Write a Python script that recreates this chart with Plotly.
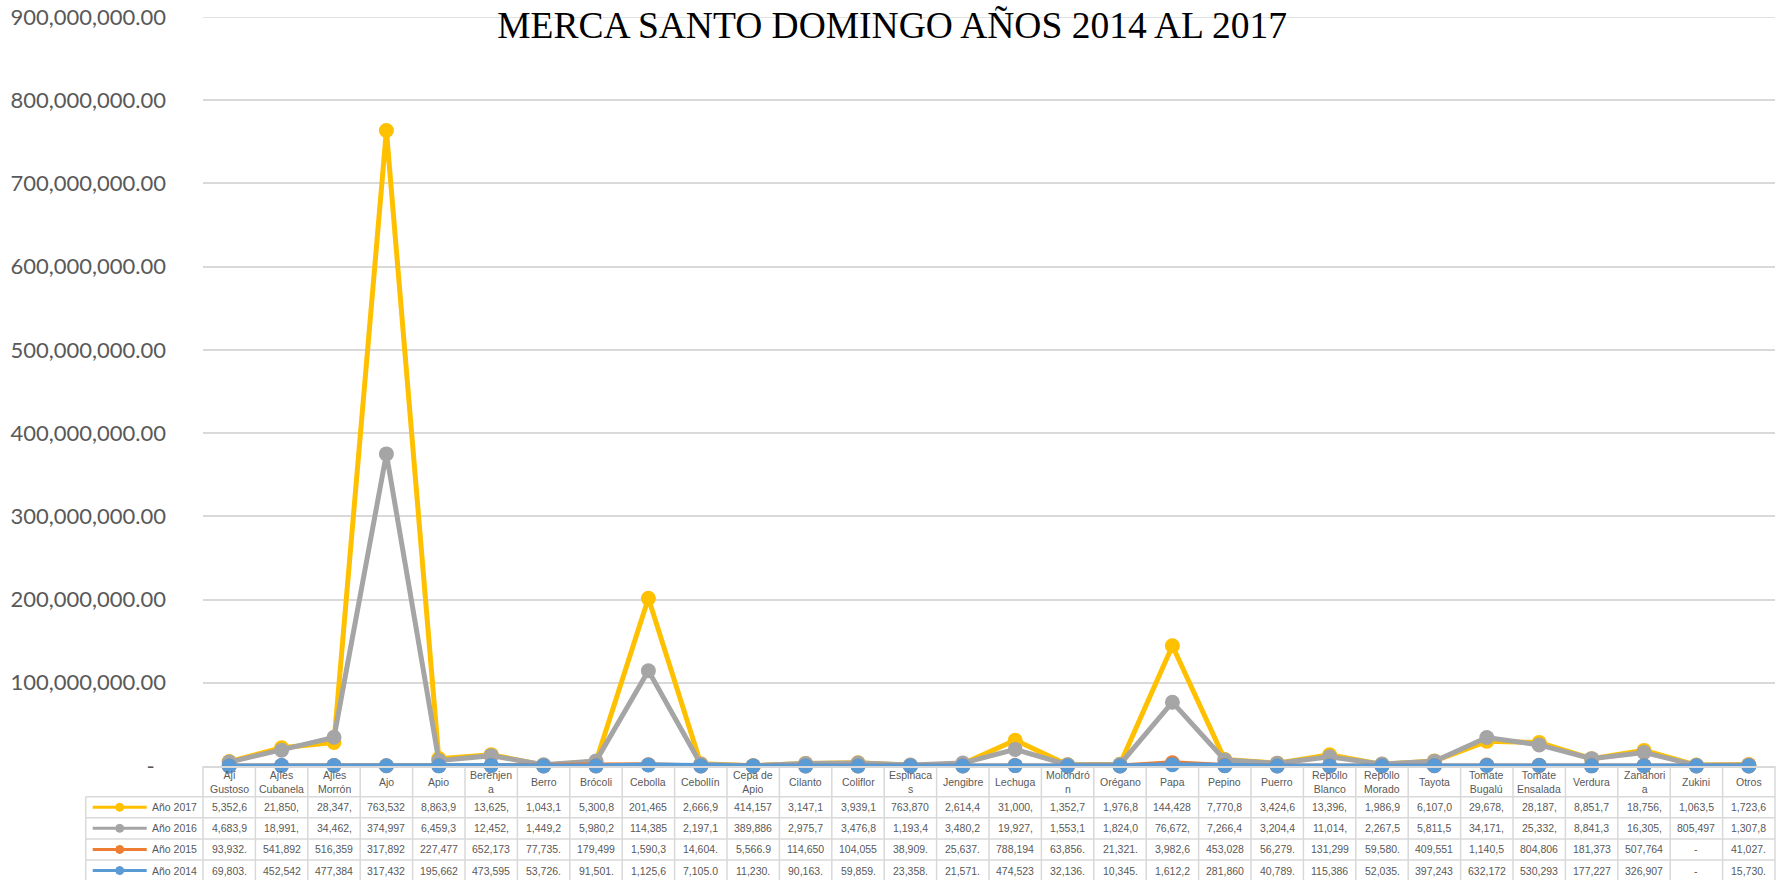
"""Merca Santo Domingo 2014-2017: línea + tabla de datos (estilo Excel)"""

import plotly.graph_objects as go

CATEGORIAS = [
    "Ají Gustoso", "Ajíes Cubanela", "Ajíes Morrón", "Ajo", "Apio", "Berenjena",
    "Berro", "Brócoli", "Cebolla", "Cebollín", "Cepa de Apio", "Cilanto",
    "Coliflor", "Espinacas", "Jengibre", "Lechuga", "Molondrón", "Orégano",
    "Papa", "Pepino", "Puerro", "Repollo Blanco", "Repollo Morado", "Tayota",
    "Tomate Bugalú", "Tomate Ensalada", "Verdura", "Zanahoria", "Zukini", "Otros",
]
# encabezados tal como se ven en la tabla (con el corte de palabra)
ENCABEZADOS = [
    "Ají<br>Gustoso", "Ajíes<br>Cubanela", "Ajíes<br>Morrón", "Ajo", "Apio", "Berenjen<br>a",
    "Berro", "Brócoli", "Cebolla", "Cebollín", "Cepa de<br>Apio", "Cilanto",
    "Coliflor", "Espinaca<br>s", "Jengibre", "Lechuga", "Molondró<br>n", "Orégano",
    "Papa", "Pepino", "Puerro", "Repollo<br>Blanco", "Repollo<br>Morado", "Tayota",
    "Tomate<br>Bugalú", "Tomate<br>Ensalada", "Verdura", "Zanahori<br>a", "Zukini", "Otros",
]

ANIO_2017 = [
    5352600, 21850000, 28347000, 763532000, 8863900, 13625000,
    1043100, 5300800, 201465000, 2666900, 414157, 3147100,
    3939100, 763870, 2614400, 31000000, 1352700, 1976800,
    144428000, 7770800, 3424600, 13396000, 1986900, 6107000,
    29678000, 28187000, 8851700, 18756000, 1063500, 1723600,
]
ANIO_2016 = [
    4683900, 18991000, 34462000, 374997000, 6459300, 12452000,
    1449200, 5980200, 114385000, 2197100, 389886, 2975700,
    3476800, 1193400, 3480200, 19927000, 1553100, 1824000,
    76672000, 7266400, 3204400, 11014000, 2267500, 5811500,
    34171000, 25332000, 8841300, 16305000, 805497, 1307800,
]
ANIO_2015 = [
    93932, 541892, 516359, 317892, 227477, 652173,
    77735, 179499, 1590300, 14604, 5566.9, 114650,
    104055, 38909, 25637, 788194, 63856, 21321,
    3982600, 453028, 56279, 131299, 59580, 409551,
    1140500, 804806, 181373, 507764, 0, 41027,
]
ANIO_2014 = [
    69803, 452542, 477384, 317432, 195662, 473595,
    53726, 91501, 1125600, 7105.0, 11230, 90163,
    59859, 23358, 21571, 474523, 32136, 10345,
    1612200, 281860, 40789, 115386, 52035, 397243,
    632172, 530293, 177227, 326907, 0, 15730,
]

SERIES = [
    ("Año 2017", ANIO_2017, "#FFC000"),
    ("Año 2016", ANIO_2016, "#A5A5A5"),
    ("Año 2015", ANIO_2015, "#ED7D31"),
    ("Año 2014", ANIO_2014, "#5B9BD5"),
]

Y_TICKS = list(range(0, 900_000_001, 100_000_000))

W, H = 1785, 880
# bordes del área de trazado en píxeles de la página
SX0, SX1, SY0, SY1 = 203.3, 1775.3, 17.0, 766.0
M_L, M_R = SX0, W - SX1
M_T, M_B = SY0, H - SY1
PW, PH = SX1 - SX0, SY1 - SY0
GRID = "#D9D9D9"
TXT = "#595959"
TABLE_FONT = dict(family="Liberation Sans, Arial, sans-serif", size=10.5, color=TXT)


def px_x(p):
    return (p - SX0) / PW


def px_y(p):
    return (SY1 - p) / PH


def celda(v):
    # Excel recorta el texto al ancho de la celda
    return "-" if v == 0 else f"{v:,.2f}"[:7]


fig = go.Figure()
for nombre, vals, color in SERIES:
    fig.add_trace(go.Scatter(
        x=CATEGORIAS, y=vals, name=nombre, mode="lines+markers",
        line=dict(color=color, width=5),
        marker=dict(color=color, size=15),
        cliponaxis=False,
    ))

shapes = []
annotations = []

# tabla de datos
n = len(CATEGORIAS)
col_w = PW / n
top = SY1
head_bot = top + 30.7
row_h = 21.1
rows_y = [head_bot + i * row_h for i in range(len(SERIES) + 1)]
leg_left = 86

line_style = dict(color=GRID, width=1.5)
for k in range(n + 1):
    xp = SX0 + k * col_w
    shapes.append(dict(type="line", xref="paper", yref="paper",
                       x0=px_x(xp), x1=px_x(xp), y0=px_y(top), y1=px_y(rows_y[-1]),
                       line=line_style))
shapes.append(dict(type="line", xref="paper", yref="paper",
                   x0=px_x(leg_left), x1=px_x(leg_left), y0=px_y(head_bot), y1=px_y(rows_y[-1]),
                   line=line_style))
for yp in rows_y:
    shapes.append(dict(type="line", xref="paper", yref="paper",
                       x0=px_x(leg_left), x1=px_x(SX1), y0=px_y(yp), y1=px_y(yp),
                       line=line_style))
# línea de cuadrícula superior (900 millones)
shapes.append(dict(type="line", xref="paper", yref="y",
                   x0=0, x1=1, y0=Y_TICKS[-1], y1=Y_TICKS[-1],
                   line=line_style, layer="below"))

for i, etiqueta in enumerate(ENCABEZADOS):
    annotations.append(dict(
        x=CATEGORIAS[i], xref="x", y=px_y((top + head_bot) / 2 + 1), yref="paper",
        text=etiqueta, showarrow=False, font=TABLE_FONT,
        xanchor="center", yanchor="middle",
    ))

for r, (nombre, vals, color) in enumerate(SERIES):
    yc = (rows_y[r] + rows_y[r + 1]) / 2
    # clave de la leyenda
    shapes.append(dict(type="line", xref="paper", yref="paper",
                       x0=px_x(93), x1=px_x(147), y0=px_y(yc), y1=px_y(yc),
                       line=dict(color=color, width=3)))
    shapes.append(dict(type="circle", xref="paper", yref="paper",
                       x0=px_x(116), x1=px_x(124), y0=px_y(yc + 4), y1=px_y(yc - 4),
                       fillcolor=color, line=dict(color=color, width=1)))
    annotations.append(dict(
        x=px_x(150), xref="paper", y=px_y(yc), yref="paper",
        text=nombre, showarrow=False, font=TABLE_FONT,
        xanchor="left", yanchor="middle",
    ))
    for i, v in enumerate(vals):
        annotations.append(dict(
            x=CATEGORIAS[i], xref="x", y=px_y(yc), yref="paper",
            text=celda(v), showarrow=False, font=TABLE_FONT,
            xanchor="center", yanchor="middle",
        ))

fig.update_layout(
    width=W, height=H,
    margin=dict(l=M_L, r=M_R, t=M_T, b=M_B, autoexpand=False),
    plot_bgcolor="white",
    paper_bgcolor="white",
    showlegend=False,
    title=dict(
        text="MERCA SANTO DOMINGO AÑOS 2014 AL 2017",
        font=dict(family="Liberation Serif, Times New Roman, serif", size=37.5, color="black"),
        x=px_x(892.4), xref="paper", xanchor="center",
        y=1 - 24.5 / H, yref="container", yanchor="middle",
    ),
    xaxis=dict(
        type="category", range=[-0.5, n - 0.5],
        showticklabels=False, showgrid=False, ticks="",
        showline=True, linecolor=GRID, linewidth=1.5,
        zeroline=False,
    ),
    yaxis=dict(
        range=[0, 900_000_000],
        tickvals=Y_TICKS,
        ticktext=["-\u00a0\u00a0" if t == 0 else f"{t:,.2f}" for t in Y_TICKS],
        tickfont=dict(family="Lato, Calibri, sans-serif", size=22, color=TXT),
        ticklabeloverflow="allow",
        showgrid=True, gridcolor=GRID, gridwidth=1.5,
        zeroline=False, showline=False, ticks="",
        ticklabelstandoff=36,
    ),
    shapes=shapes,
    annotations=annotations,
)

# sin el margen por defecto del body, la figura ocupa toda la ventana
fig.write_html(
    "out.html",
    config={"displayModeBar": False},
    post_script="document.body.style.margin = '0';",
)
